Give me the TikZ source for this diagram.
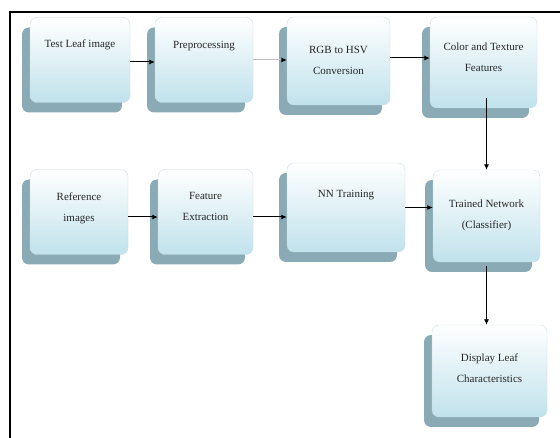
\documentclass[tikz,border=0pt]{standalone}
\usepackage{fontspec}
\setmainfont{Liberation Serif}
\usetikzlibrary{shadows,arrows.meta}
\definecolor{boxblue}{RGB}{192,226,236}
\definecolor{shadowc}{RGB}{138,170,181}
\definecolor{edgec}{RGB}{205,220,226}
\definecolor{lgray}{RGB}{190,190,190}
\begin{document}
\begin{tikzpicture}[x=1pt,y=-1pt,
  box/.style={draw=edgec, rounded corners=7pt, inner sep=0pt, top color=white, bottom color=boxblue,
    general shadow={fill=shadowc, shadow xshift=-8pt, shadow yshift=-10pt}},
  lbl/.style={font=\fontsize{11}{21}\selectfont, align=center, inner sep=0pt, text=black!85},
  arr/.style={-{Latex[length=5.5pt,width=5pt]}, line width=1pt, black}]
\useasboundingbox (0,0) rectangle (560,438);
\fill[white] (0,0) rectangle (560,438);
% frame
\draw[line width=2.5pt] (10,438) -- (10,12) -- (560,12);
% row 1
\node[box, minimum width=100pt, minimum height=85pt] (b1) at (80,60) {};
\node[box, minimum width=98pt, minimum height=85pt] (b2) at (204,60) {};
\node[box, minimum width=103pt, minimum height=88pt] (b3) at (338.5,61) {};
\node[box, minimum width=107pt, minimum height=91pt] (b4) at (483.5,62.5) {};
% row 2
\node[box, minimum width=98pt, minimum height=85pt] (r1) at (79,212) {};
\node[box, minimum width=95pt, minimum height=85pt] (r2) at (205.5,212) {};
\node[box, minimum width=118pt, minimum height=89pt] (r3) at (346,207.5) {};
\node[box, minimum width=107pt, minimum height=92pt] (r4) at (486.5,216) {};
% row 3
\node[box, minimum width=115pt, minimum height=92pt] (d1) at (489.5,371) {};
% labels
\node[lbl] (t1) at (80,45) {Test Leaf image};
\node[lbl] (t2) at (204,46) {Preprocessing};
\node[lbl] (t3) at (338.5,60) {RGB to HSV\\Conversion};
\node[lbl] (t4) at (483.5,57) {Color and Texture\\Features};
\node[lbl] (t5) at (79,208) {Reference\\images};
\node[lbl] (t6) at (205.5,206) {Feature\\Extraction};
\node[lbl] (t7) at (346,195) {NN Training};
\node[lbl] (t8) at (486.5,215) {Trained Network\\(Classifier)};
\node[lbl] (t9) at (489.5,368) {Display Leaf\\Characteristics};
% connectors
\draw[arr] ([yshift=-2pt]b1.east) -- ([yshift=-2pt]b1.east -| b2.west);
\draw[-{Latex[length=5.5pt,width=5pt,black]}, line width=1pt, lgray] (b2.east) -- (b2.east -| b3.west);
\draw[arr] ([yshift=3pt]b3.east) -- ([yshift=3pt]b3.east -| b4.west);
\draw[arr, line width=0.8pt] ([yshift=10pt]b4.south -| r4.north) -- (r4.north);
\draw[arr] ([yshift=-5pt]r1.east) -- ([yshift=-5pt]r1.east -| r2.west);
\draw[arr] ([yshift=-5pt]r2.east) -- ([yshift=-5pt]r2.east -| r3.west);
\draw[arr] (r3.east) -- (r3.east -| r4.west);
\draw[arr, line width=0.8pt] ([yshift=-4pt]r4.south) -- (r4.south |- d1.north);
\end{tikzpicture}
\end{document}
